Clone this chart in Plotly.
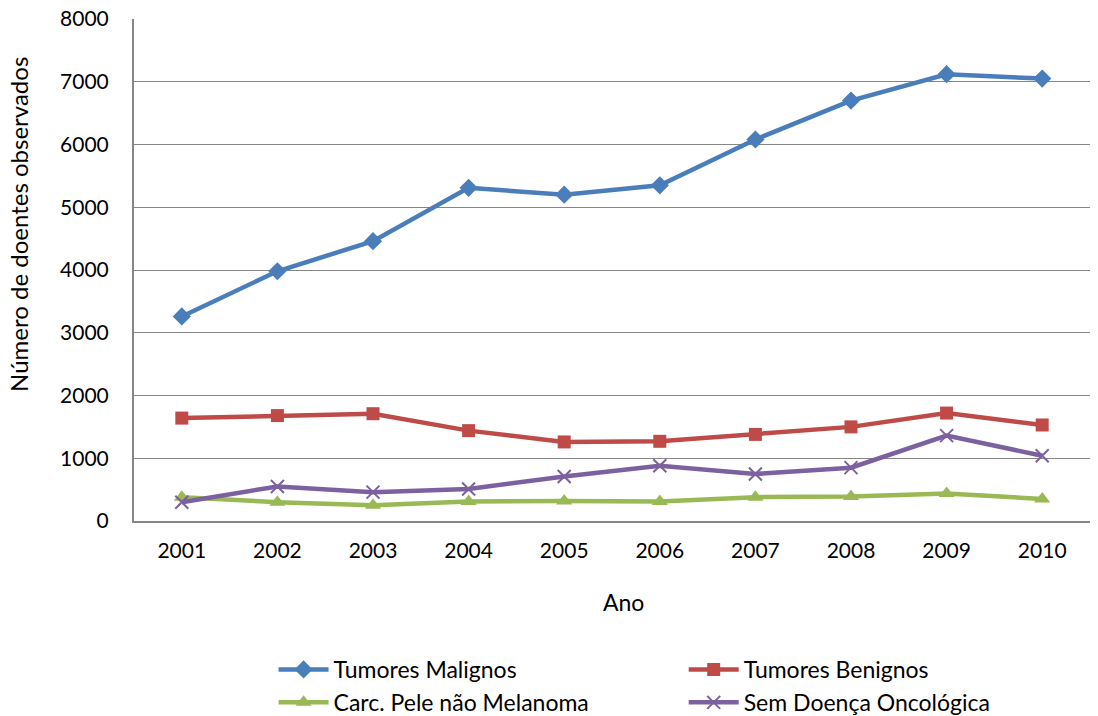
import plotly.graph_objects as go

years = ["2001", "2002", "2003", "2004", "2005", "2006", "2007", "2008", "2009", "2010"]
malignos = [3260, 3980, 4460, 5310, 5200, 5350, 6080, 6700, 7120, 7050]
benignos = [1640, 1680, 1710, 1440, 1260, 1270, 1380, 1500, 1720, 1530]
carc_pele = [380, 300, 250, 310, 320, 310, 380, 390, 440, 350]
sem_doenca = [300, 550, 460, 510, 710, 880, 750, 850, 1360, 1040]
x_title = "Ano"
y_title = "Número de doentes observados"

series = [
    ("Tumores Malignos", malignos, "#4A7EBB", dict(symbol="diamond", size=14), "legend"),
    ("Tumores Benignos", benignos, "#BE4B48", dict(symbol="square", size=13), "legend2"),
    ("Carc. Pele não Melanoma", carc_pele, "#98B954", dict(symbol="triangle-up", size=14), "legend"),
    ("Sem Doença Oncológica", sem_doenca, "#7D60A0",
     dict(symbol="x-thin", size=13, line=dict(width=2, color="#7D60A0")), "legend2"),
]

font_family = "Lato, 'Open Sans', sans-serif"
fig = go.Figure()
for name, vals, color, marker, leg in series:
    m = dict(color=color, **marker)
    fig.add_trace(go.Scatter(x=years, y=vals, name=name, mode="lines+markers",
                             line=dict(color=color, width=4.5), marker=m,
                             legend=leg, legendgroup=name))

legend_common = dict(orientation="v", yanchor="top", xanchor="left", y=-0.253,
                     font=dict(size=23), tracegroupgap=0, itemwidth=50,
                     bgcolor="rgba(0,0,0,0)")

fig.update_layout(
    width=1098, height=716,
    margin=dict(l=134, r=8, t=19, b=195, autoexpand=False),
    paper_bgcolor="white", plot_bgcolor="white",
    font=dict(family=font_family, size=21, color="black"),
    showlegend=True,
    legend=dict(x=0.146, **legend_common),
    legend2=dict(x=0.575, **legend_common),
    xaxis=dict(type="category", range=[-0.5, 9.5], showgrid=False,
               showline=True, linecolor="#868686", linewidth=2,
               ticks="outside", ticklen=10, tickcolor="rgba(0,0,0,0)",
               automargin=False, tickfont=dict(size=21)),
    yaxis=dict(range=[0, 8000], dtick=1000, showgrid=True, gridcolor="#868686", gridwidth=1.3,
               showline=True, linecolor="#868686", linewidth=2, zeroline=False,
               ticks="outside", ticklen=19, tickcolor="rgba(0,0,0,0)",
               ticklabeloverflow="allow",
               automargin=False, tickfont=dict(size=21)),
    annotations=[
        dict(text=x_title, xref="paper", yref="paper", x=0.5125, y=-0.161,
             xanchor="center", yanchor="middle", showarrow=False, font=dict(size=23)),
        dict(text=y_title, xref="paper", yref="paper", x=-0.1202, y=0.59, textangle=-90,
             xanchor="center", yanchor="middle", showarrow=False, font=dict(size=24)),
    ],
)
fig.write_html("out.html", config={"displayModeBar": False},
               post_script="document.body.style.margin='0';document.body.style.overflow='hidden';")
